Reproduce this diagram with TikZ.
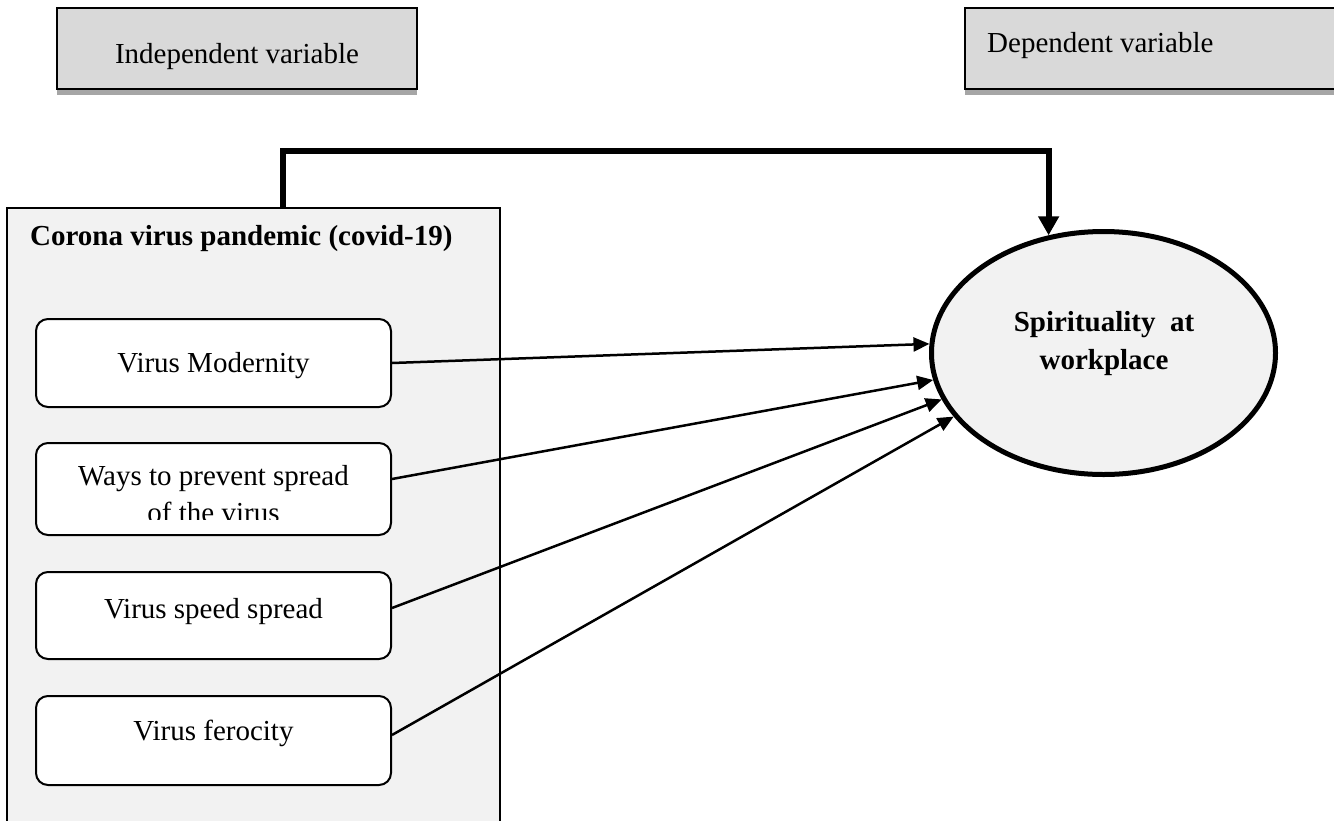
\documentclass[tikz,border=0pt]{standalone}
\usepackage{fontspec}
\setmainfont{Liberation Serif}
\usetikzlibrary{arrows.meta,shapes.geometric}
\definecolor{hdrgray}{HTML}{D9D9D9}
\definecolor{panel}{HTML}{F2F2F2}
\definecolor{shadowgray}{HTML}{A6A6A6}
\begin{document}
\begin{tikzpicture}[x=1pt,y=-1pt,
  font=\fontsize{29}{34}\selectfont,
  hdr/.style={draw, line width=2.5pt, fill=hdrgray, rectangle, inner sep=0pt},
  panelbox/.style={draw, line width=2pt, fill=panel, rectangle, inner sep=0pt},
  item/.style={draw, line width=2pt, fill=white, rectangle, rounded corners=12pt, minimum width=355pt, inner sep=0pt},
  txt/.style={anchor=base, inner sep=0pt},
  boldtxt/.style={anchor=base, inner sep=0pt, font=\fontsize{29}{34}\selectfont\bfseries},
  link/.style={line width=2.5pt, -{Triangle[length=16pt,width=14pt]}},
  mainlink/.style={line width=6pt, -{Triangle[length=19pt,width=20pt]}},
  target/.style={draw, line width=5pt, fill=panel, ellipse, inner sep=0pt, minimum width=344pt, minimum height=243pt}
]
\useasboundingbox (0,0) rectangle (1334,820);
\clip (0,0) rectangle (1334,820);

% header boxes with shadow
\fill[shadowgray] (57,89) rectangle (417,95);
\node[hdr, minimum width=360pt, minimum height=81pt] (iv) at (237,48.5) {};
\node[txt] (ivt) at (237,63) {Independent variable};

\fill[shadowgray] (965,89) rectangle (1345,95);
\node[hdr, minimum width=380pt, minimum height=81pt] (dv) at (1155,48.5) {};
\node[txt, anchor=base west] (dvt) at (987,52) {Dependent variable};

% main panel
\node[panelbox, minimum width=493pt, minimum height=622pt] (cv) at (253.5,519) {};
\node[boldtxt, anchor=base west] (cvt) at (30,245) {Corona virus pandemic (covid-19)};

% inner items
\node[item, minimum height=88pt] (b1) at (213.5,363) {};
\node[txt] (b1t) at (213.5,372) {Virus Modernity};

\node[item, minimum height=92pt] (b2) at (213.5,489) {};
\node[txt] (b2t) at (213.5,485) {Ways to prevent spread};
\begin{scope}
  \clip (36,443) rectangle (391,519);
  \node[txt] (b2u) at (213.5,522) {of the virus};
\end{scope}

\node[item, minimum height=87pt] (b3) at (213.5,615.5) {};
\node[txt] (b3t) at (213.5,618) {Virus speed spread};

\node[item, minimum height=89pt] (b4) at (213.5,740.5) {};
\node[txt] (b4t) at (213.5,740) {Virus ferocity};

% dependent ellipse
\node[target] (sp) at (1103.5,353) {};
\node[boldtxt] (spt1) at (1104,331) {Spirituality\ \ at};
\node[boldtxt] (spt2) at (1104,369) {workplace};

% connectors
\draw[link] (b1.east) -- (sp.177.7);
\draw[link] ([yshift=10pt]b2.east) -- (sp.189.2);
\draw[link] ([yshift=7.5pt]b3.east) -- (sp.196.9);
\draw[link] ([yshift=5.5pt]b4.east) -- (sp.203);

\coordinate (cnr) at (283,151);
\draw[mainlink] ([xshift=29.5pt]cv.north) -- (cnr) -| (sp.115);
\end{tikzpicture}
\end{document}
